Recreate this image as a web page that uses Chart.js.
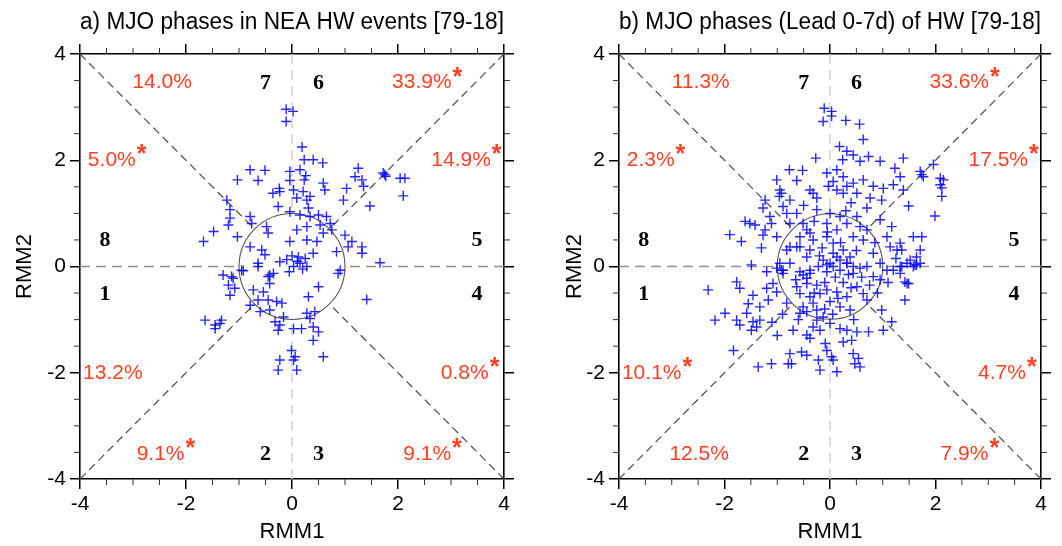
<!DOCTYPE html>
<html>
<head>
<meta charset="utf-8">
<title>MJO phases of NEA HW</title>
<script src="https://cdn.jsdelivr.net/npm/chart.js@4.4.1/dist/chart.umd.min.js"></script>
<style>
  body { margin: 0; background: #fff; }
  #wrap { position: relative; width: 1062px; height: 546px; }
  canvas { position: absolute; top: 0; }
</style>
</head>
<body>
<div id="wrap">
  <canvas id="chartA" width="531" height="546" style="left:0"></canvas>
  <canvas id="chartB" width="531" height="546" style="left:531px"></canvas>
</div>
<script>
// phases 1..8, percentage of days and significance star
const phases = [1, 2, 3, 4, 5, 6, 7, 8];
const pctA = ['13.2%', '9.1%', '9.1%', '0.8%', '14.9%', '33.9%', '14.0%', '5.0%'];
const sigA = [false, true, true, true, true, true, false, true];
const pctB = ['10.1%', '12.5%', '7.9%', '4.7%', '17.5%', '33.6%', '11.3%', '2.3%'];
const sigB = [true, false, true, true, true, true, false, true];
const axisTicks = [-4, -2, 0, 2, 4];

// (RMM1, RMM2) of HW days, panel a
const hwPointsA = [
  [-0.11,2.96],[0.02,2.92],[-0.11,2.73],[0.19,2.25],[0.23,2.01],[0.40,2.01],[0.58,1.95],
  [-0.79,1.82],[-0.51,1.81],[-1.03,1.63],[-0.64,1.62],[-0.04,1.79],[0.15,1.82],[0.26,1.71],
  [0.23,1.63],[-0.04,1.62],[0.59,1.57],[0.62,1.44],[-0.24,1.47],[-0.36,1.38],[-0.23,1.41],
  [0.03,1.44],[0.21,1.41],[0.34,1.32],[0.28,1.25],[0.09,1.29],[1.03,1.47],[0.97,1.25],
  [1.25,1.85],[1.19,1.69],[1.32,1.63],[1.35,1.51],[1.75,1.73],[1.72,1.76],[1.77,1.70],
  [2.04,1.66],[2.13,1.66],[2.10,1.33],[1.47,1.14],[-1.23,1.25],[-1.17,1.07],[-1.17,0.91],
  [-1.20,0.78],[-1.48,0.66],[-1.67,0.47],[-1.03,0.56],[-0.79,0.94],[-0.76,0.81],[-0.26,1.13],
  [-0.04,1.03],[0.15,0.97],[0.31,1.10],[0.34,0.94],[0.50,0.97],[0.65,0.94],[0.72,0.81],
  [0.53,0.78],[0.59,0.63],[0.75,0.69],[-0.48,0.75],[-0.45,0.63],[0.28,0.75],[0.09,0.69],
  [1.00,0.59],[1.13,0.47],[1.06,0.37],[1.32,0.37],[1.32,0.25],[1.66,0.07],[-0.79,0.37],
  [-0.57,0.31],[-0.51,0.22],[-0.64,0.06],[-0.04,0.47],[0.28,0.50],[0.40,0.25],[0.47,0.47],
  [-0.23,0.09],[-0.10,0.13],[0.12,0.18],[0.15,0.06],[0.28,0.00],[0.03,0.00],[0.84,0.28],
  [0.91,-0.07],[-1.30,-0.16],[-1.14,-0.19],[-0.95,-0.07],[-0.42,-0.16],[-0.35,-0.13],
  [0.00,0.20],[0.10,0.10],[0.20,-0.05],[-0.05,-0.10],[0.25,0.15],
  [-0.92,-0.08],[-0.64,0.00],[-0.45,-0.19],[-0.42,-0.32],[-1.11,-0.22],[-1.20,-0.35],
  [-1.08,-0.41],[-1.17,-0.54],[-0.73,-0.44],[-0.54,-0.48],[-0.64,-0.63],[-0.45,-0.63],
  [-0.29,-0.66],[-0.19,-0.69],[-0.42,-0.82],[-0.60,-0.85],[-0.79,-0.73],[0.50,-0.38],
  [0.31,-0.57],[0.43,-0.85],[0.28,-0.88],[0.87,-0.13],[1.41,-0.62],[-1.64,-1.01],
  [-1.45,-1.17],[-1.33,-1.01],[-1.45,-1.10],[-1.36,-1.07],[-0.32,-1.04],[-0.23,-1.10],
  [-0.16,-0.95],[-0.26,-1.20],[0.03,-1.17],[0.18,-1.17],[0.34,-0.98],[0.40,-1.14],
  [0.50,-1.23],[0.40,-1.39],[-0.01,-1.58],[0.06,-1.70],[-0.23,-1.76],[-0.26,-1.95],
  [0.09,-1.95],[0.59,-1.70],[0.03,-1.76]
];

// (RMM1, RMM2) of lead 0-7 day HW days, panel b
const hwPointsB = [
  [-0.11,2.98],[0.03,2.92],[-0.13,2.73],[0.03,2.83],[0.30,2.75],[0.56,2.68],[0.63,2.39],
  [0.18,2.26],[0.32,2.17],[0.44,2.10],[-0.27,2.04],[0.24,2.01],[0.57,1.98],[0.73,2.07],
  [0.95,1.98],[1.39,2.04],[-0.77,1.82],[-0.52,1.81],[-0.63,1.62],[-1.01,1.63],[-0.95,1.44],
  [-0.96,1.32],[-0.06,1.76],[0.13,1.82],[0.25,1.69],[0.06,1.60],[-0.03,1.51],[0.32,1.51],
  [0.44,1.57],[0.63,1.63],[0.51,1.38],[0.25,1.38],[0.13,1.44],[-0.32,1.38],[-0.25,1.29],
  [-0.38,1.44],[0.82,1.51],[1.01,1.47],[0.76,1.29],[0.98,1.25],[1.23,1.85],[1.33,1.69],
  [1.20,1.54],[1.39,1.44],[1.74,1.73],[1.77,1.69],[2.09,1.66],[2.15,1.63],[2.09,1.54],
  [2.12,1.32],[1.99,0.95],[1.49,1.14],[-1.23,1.25],[-1.27,1.10],[-0.92,1.38],[-0.76,1.25],
  [-0.89,1.13],[-1.61,0.85],[-1.52,0.81],[-1.42,0.78],[-1.14,0.94],[-1.11,0.81],[-1.23,0.69],
  [-1.27,0.59],[-1.68,0.47],[-1.01,0.56],[-0.82,1.00],[-0.63,1.00],[-0.51,0.81],[-0.76,0.81],
  [-0.44,0.69],[-0.57,0.56],[-0.38,0.63],[-0.63,0.37],[-0.82,0.31],[-0.76,0.06],[-0.95,0.06],
  [-0.89,-0.07],[-0.25,1.07],[0.00,1.00],[0.19,0.94],[-0.06,0.81],[0.13,0.69],[0.32,0.81],
  [0.51,0.94],[0.57,0.75],[0.70,0.69],[0.44,0.56],[0.63,0.50],[-0.06,0.56],[0.06,0.44],
  [0.95,0.88],[1.17,0.75],[1.08,0.56],[1.33,0.44],[1.58,0.56],[1.71,0.31],[1.64,0.18],
  [1.46,0.06],[1.27,0.31],[1.14,0.37],[0.06,0.25],[0.13,0.18],[0.19,0.12],[0.00,0.06],
  [0.25,0.31],[0.32,0.06],[-0.13,0.12],[0.38,0.18],[-0.22,0.00],[0.19,-0.07],[-0.06,-0.10],
  [0.44,0.00],[-0.38,-0.07],[-0.57,-0.10],[-0.76,0.37],[-0.57,0.37],[-0.38,0.31],[-0.44,0.18],
  [-0.32,0.50],[0.82,0.25],[0.95,0.06],[1.08,-0.07],[1.33,0.00],[1.52,0.12],[1.64,0.03],
  [-1.49,0.03],[-1.20,-0.10],[-1.01,-0.03],[1.71,1.79],[1.96,1.92],[2.12,1.48],[1.74,0.56],
  [1.36,0.00],[1.58,0.00],[1.42,-0.29],[1.49,-0.32],[1.36,0.31],
  [-0.92,-0.07],[-0.89,-0.13],[-0.51,-0.16],[-0.38,-0.13],[-0.44,-0.22],[-0.06,0.03],
  [0.06,0.00],[0.32,0.06],[0.44,-0.13],[0.57,-0.03],[0.70,0.00],[0.82,-0.19],[0.95,-0.25],
  [1.20,-0.07],[1.33,-0.13],[1.46,-0.32],[1.61,0.03],[1.71,0.06],[1.42,-0.63],[0.98,-0.82],
  [1.17,-1.04],[1.01,-1.20],[-2.31,-0.44],[-1.77,-0.29],[-1.71,-0.41],[-1.46,-0.54],
  [-1.20,-0.41],[-1.08,-0.32],[-1.01,-0.48],[-1.17,-0.63],[-1.33,-0.76],[-2.18,-1.01],
  [-1.99,-0.88],[-1.77,-1.01],[-1.71,-1.10],[-1.58,-0.88],[-1.46,-1.04],[-1.39,-1.14],
  [-1.49,-1.20],[-1.33,-1.01],[-1.83,-1.58],[-1.36,-1.89],[-1.11,-1.83],[-0.79,-1.83],
  [-0.82,-0.69],[-0.63,-0.38],[-0.57,-0.51],[-0.44,-0.32],[-0.38,-0.57],[-0.51,-0.76],
  [-0.32,-0.69],[-0.57,-0.88],[-0.44,-0.85],[-0.25,-0.82],[-0.19,-0.51],[-0.06,-0.44],
  [0.00,-0.66],[0.13,-0.48],[0.19,-0.76],[0.32,-0.57],[0.38,-0.82],[0.51,-0.38],[0.63,-0.51],
  [0.70,-0.63],[-0.25,-1.01],[-0.13,-0.95],[0.00,-1.07],[-0.32,-1.14],[-0.44,-1.29],
  [-0.38,-1.35],[-0.19,-1.20],[0.19,-1.17],[0.32,-1.20],[0.51,-1.23],[0.73,-1.23],
  [0.25,-1.42],[0.41,-1.39],[-0.09,-1.45],[-0.06,-1.58],[0.03,-1.70],[0.06,-1.76],
  [-0.22,-1.76],[-0.19,-1.95],[0.13,-1.98],[-0.54,-1.61],[-0.44,-1.67],[-0.76,-1.64],
  [-0.73,-1.83],[0.44,-1.64],[0.54,-1.73],[0.57,-1.89],[0.47,-1.83],
  [0.10,-0.20],[0.25,-0.30],[-0.10,-0.30],[0.40,-0.40],[-0.25,-0.35],[0.60,-0.20],
  [0.15,-0.60],[-0.10,-0.80],[0.05,-0.90],[0.45,-1.00],[-0.60,-1.00],[-0.70,-1.20],
  [0.90,-0.50],[1.10,-0.30],[-0.90,-0.90],[-1.00,-1.30],[-0.30,0.85],[0.40,1.20],
  [0.70,1.10],[-0.50,1.15],[0.85,0.45],[-0.15,0.35],[0.50,0.30],[-1.30,0.35],
  [-1.90,0.60],[0.20,0.45],[-0.20,0.20],[0.35,-0.15],[-0.30,-0.50],[0.75,-0.35],
  [-0.65,-0.25],[-0.05,0.65],[0.30,1.05],[1.25,0.15],[-1.55,-0.70],[-1.10,-1.05]
];

const SANS = '"Liberation Sans", Arial, Helvetica, sans-serif';
const SERIF = '"Liberation Serif", "Times New Roman", serif';
const RED = '#ff4022';

// where the texts sit in each sector (RMM1, RMM2)
const pctPos = [[-3.38,-2.0],[-2.48,-3.54],[2.55,-3.54],[3.26,-2.0],[3.19,2.0],[2.45,3.46],[-2.45,3.46],[-3.4,2.0]];
const numPos = [[-3.53,-0.52],[-0.5,-3.54],[0.5,-3.54],[3.49,-0.52],[3.49,0.5],[0.5,3.44],[-0.5,3.44],[-3.53,0.5]];

const phaseDecor = {
  id: 'phaseDecor',
  beforeDatasetsDraw(chart) {
    const ctx = chart.ctx;
    const px = v => chart.scales.x.getPixelForValue(v);
    const py = v => chart.scales.y.getPixelForValue(v);
    const seg = (x1, y1, x2, y2) => {
      ctx.beginPath(); ctx.moveTo(px(x1), py(y1)); ctx.lineTo(px(x2), py(y2)); ctx.stroke();
    };
    const d = Math.SQRT1_2;
    ctx.save();
    ctx.lineWidth = 1.5;
    ctx.setLineDash([10, 6]);
    ctx.strokeStyle = '#8e8e8e';
    seg(-4, 0, -1, 0); seg(4, 0, 1, 0);
    ctx.strokeStyle = '#d2d2d2';
    seg(0, 4, 0, 1); seg(0, -4, 0, -1);
    ctx.lineWidth = 1.2;
    ctx.setLineDash([8, 5]);
    ctx.strokeStyle = '#4a4a4a';
    seg(-4, -4, -d, -d); seg(4, 4, d, d); seg(-4, 4, -d, d); seg(4, -4, d, -d);
    ctx.setLineDash([]);
    ctx.strokeStyle = '#555';
    ctx.lineWidth = 1.1;
    ctx.beginPath();
    ctx.arc(px(0), py(0), px(1) - px(0), 0, 2 * Math.PI);
    ctx.stroke();
    ctx.restore();
  },
  afterDraw(chart, args, opts) {
    const ctx = chart.ctx;
    const px = v => chart.scales.x.getPixelForValue(v);
    const py = v => chart.scales.y.getPixelForValue(v);
    const a = chart.chartArea;
    ctx.save();
    // minor ticks every 0.5
    ctx.strokeStyle = '#333';
    ctx.lineWidth = 1;
    for (let v = -3.5; v <= 3.5; v += 0.5) {
      if (v % 2 === 0) continue;
      ctx.beginPath();
      ctx.moveTo(px(v), a.bottom); ctx.lineTo(px(v), a.bottom + 6);
      ctx.moveTo(px(v), a.top); ctx.lineTo(px(v), a.top - 6);
      ctx.moveTo(a.left, py(v)); ctx.lineTo(a.left - 6, py(v));
      ctx.moveTo(a.right, py(v)); ctx.lineTo(a.right + 6, py(v));
      ctx.stroke();
    }
    ctx.textBaseline = 'middle';
    ctx.textAlign = 'center';
    phases.forEach((p, i) => {
      ctx.fillStyle = '#000';
      ctx.font = 'bold 22px ' + SERIF;
      ctx.fillText(String(p), px(numPos[i][0]), py(numPos[i][1]));
      const cx = px(pctPos[i][0]), cy = py(pctPos[i][1]);
      ctx.fillStyle = RED;
      ctx.font = '21px ' + SANS;
      ctx.textAlign = 'center';
      ctx.fillText(opts.pct[i], cx, cy);
      if (opts.sig[i]) {
        const w = ctx.measureText(opts.pct[i]).width;
        ctx.font = 'bold 25px ' + SANS;
        ctx.textAlign = 'left';
        ctx.fillText('*', cx + w / 2 + 1, cy - 5);
        ctx.textAlign = 'center';
      }
    });
    ctx.restore();
  }
};

function makeChart(id, title, points, pct, sig, leftW, rightW, yTitlePad) {
  const tickGrid = { drawOnChartArea: false, tickLength: 10, color: '#000', lineWidth: 1.5 };
  const border = { display: true, color: '#000', width: 1.6 };
  return new Chart(document.getElementById(id), {
    type: 'scatter',
    data: {
      datasets: [{
        data: points.map(([x, y]) => ({ x, y })),
        pointStyle: 'cross',
        pointRadius: 5,
        pointBorderWidth: 1.4,
        pointBorderColor: 'rgba(0,0,255,0.85)',
        pointBackgroundColor: 'rgba(0,0,255,0.85)'
      }]
    },
    options: {
      responsive: false,
      animation: false,
      devicePixelRatio: 1,
      layout: { padding: 0 },
      plugins: {
        legend: { display: false },
        tooltip: { enabled: false },
        title: {
          display: true, text: title, fullSize: false, color: '#000',
          font: { family: SANS, size: 23, weight: 'normal' },
          padding: { top: 9, bottom: 0 }
        },
        phaseDecor: { pct, sig }
      },
      scales: {
        x: {
          type: 'linear', position: 'bottom', min: -4, max: 4,
          afterBuildTicks: s => { s.ticks = axisTicks.map(v => ({ value: v })); },
          ticks: { color: '#000', font: { family: SANS, size: 21 }, padding: 3, maxRotation: 0,
                   callback: v => String(v) },
          grid: tickGrid, border,
          title: { display: true, text: 'RMM1', color: '#000',
                   font: { family: SANS, size: 22 }, padding: { top: 0, bottom: 1 } },
          afterFit: s => { s.height = 67; }
        },
        y: {
          type: 'linear', position: 'left', min: -4, max: 4,
          afterBuildTicks: s => { s.ticks = axisTicks.map(v => ({ value: v })); },
          ticks: { color: '#000', font: { family: SANS, size: 21 }, padding: 4,
                   callback: v => String(v) },
          grid: tickGrid, border,
          title: { display: true, text: 'RMM2', color: '#000',
                   font: { family: SANS, size: 22 }, padding: { top: yTitlePad, bottom: 0 } },
          afterFit: s => { s.width = leftW; }
        },
        xTop: {
          type: 'linear', position: 'top', min: -4, max: 4,
          afterBuildTicks: s => { s.ticks = axisTicks.map(v => ({ value: v })); },
          ticks: { display: false },
          grid: tickGrid, border,
          afterFit: s => { s.height = 17.4; }
        },
        yRight: {
          type: 'linear', position: 'right', min: -4, max: 4,
          afterBuildTicks: s => { s.ticks = axisTicks.map(v => ({ value: v })); },
          ticks: { display: false },
          grid: tickGrid, border,
          afterFit: s => { s.width = rightW; }
        }
      }
    },
    plugins: [phaseDecor]
  });
}

makeChart('chartA', 'a) MJO phases in NEA HW events [79-18]', hwPointsA, pctA, sigA, 80, 27, 12);
makeChart('chartB', 'b) MJO phases (Lead 0-7d) of HW [79-18]', hwPointsB, pctB, sigB, 88, 21, 31);
</script>
</body>
</html>
